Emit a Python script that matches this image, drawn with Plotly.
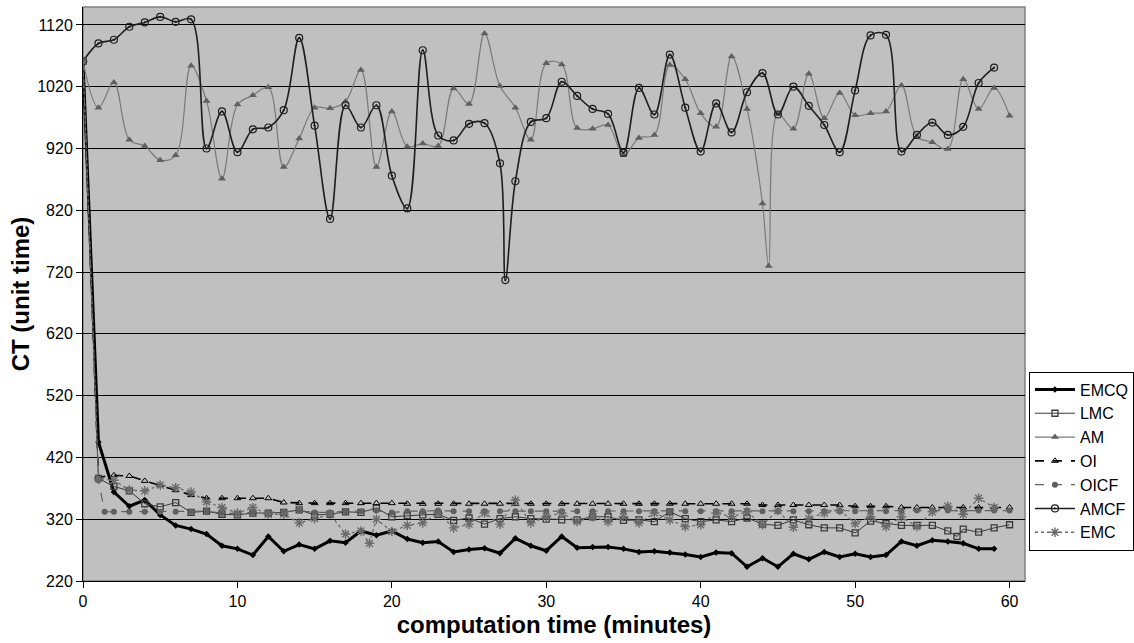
import plotly.graph_objects as go

# ---------------- data ----------------
emcq_x = list(range(0, 60))
emcq_y = [1061, 445, 364, 341, 351, 327, 310, 304, 296, 277, 272, 262, 292, 268, 279, 272, 285, 282, 301, 294,
          301, 288, 282, 284, 267, 271, 273, 265, 289, 277, 269, 292, 274, 275, 275, 272, 267, 268, 266, 263,
          259, 266, 265, 243, 257, 243, 264, 255, 267, 259, 264, 259, 262, 284, 277, 286, 284, 281, 272, 272]

lmc_x = [0, 1, 2, 3, 4, 5, 6, 7, 8, 9, 10, 11, 12, 13, 14, 15, 16, 17, 18, 19, 20, 21, 22, 23, 24, 25, 26, 27, 28, 29,
         30, 31, 32, 33, 34, 35, 36, 37, 38, 39, 40, 41, 42, 43, 44, 45, 46, 47, 48, 49, 50, 51, 52, 53, 54, 55, 56,
         56.6, 57, 58, 59, 60]
lmc_y = [1061, 386, 373, 366, 345, 340, 347, 331, 333, 328, 327, 330, 330, 331, 335, 327, 328, 332, 331, 338,
         324, 326, 327, 328, 318, 322, 312, 321, 324, 321, 320, 319, 319, 324, 324, 318, 319, 316, 332, 321,
         316, 319, 316, 322, 312, 310, 319, 311, 306, 306, 298, 317, 313, 310, 310, 310, 301, 292, 304, 299, 306, 311]

am_x = [0, 1, 2, 3, 4, 5, 6, 7, 8, 9, 10, 11, 12, 13, 14, 15, 16, 17, 18, 19, 20, 21, 22, 23, 24, 25, 26, 27, 28, 29,
        30, 31, 32, 33, 34, 35, 36, 37, 38, 39, 40, 41, 42, 43, 44, 44.4, 45, 46, 47, 48, 49, 50, 51, 52, 53, 54, 55,
        56, 57, 58, 59, 60]
am_y = [1061, 986, 1027, 934, 924, 901, 909, 1054, 997, 871, 991, 1006, 1019, 890, 936, 986, 985, 996, 1047, 890,
        980, 923, 928, 924, 1017, 992, 1106, 1021, 986, 934, 1058, 1056, 953, 952, 958, 909, 937, 942, 1055, 1032,
        977, 955, 1069, 984, 831, 730, 976, 952, 1041, 969, 1010, 974, 977, 980, 1022, 939, 930, 919, 1032, 984,
        1018, 973]

oi_x = list(range(0, 61))
oi_y = [1061, 388, 391, 390, 382, 375, 367, 359, 354, 354, 354, 354, 354, 347, 346, 346, 346, 346, 346, 346,
        346, 345, 345, 345, 345, 345, 345, 345, 345, 345, 345, 345, 345, 345, 345, 345, 345, 345, 345, 345,
        345, 345, 345, 345, 343, 343, 343, 343, 343, 343, 341, 341, 341, 339, 339, 339, 339, 339, 339, 339, 339]

oicf_x = [0, 1, 1.4, 2, 3, 4, 5, 6, 7, 8, 9, 10, 11, 12, 13, 14, 15, 16, 17, 18, 19, 20, 21, 22, 23, 24, 25, 26, 27,
          28, 29, 30, 31, 32, 33, 34, 35, 36, 37, 38, 39, 40, 41, 42, 43, 44, 45, 46, 47, 48, 49, 50, 51, 52, 53,
          54, 55, 56, 57, 58, 59, 60]
oicf_y = [1061, 383, 332, 332, 332, 332, 332, 332, 332, 333, 330, 329, 331, 331, 332, 334, 331, 331, 333, 333,
          334, 331, 333, 333, 334, 333, 333, 333, 333, 333, 333, 333, 333, 333, 333, 333, 333, 333, 333, 333,
          333, 333, 333, 333, 334, 333, 333, 333, 333, 333, 333, 333, 333, 333, 333, 334, 334, 334, 334, 334,
          334, 334]

amcf_x = [0, 1, 2, 3, 4, 5, 6, 7, 8, 9, 10, 11, 12, 13, 14, 15, 16, 17, 18, 19, 20, 21, 22, 23, 24, 25, 26, 27,
          27.35, 28, 29, 30, 31, 32, 33, 34, 35, 36, 37, 38, 39, 40, 41, 42, 43, 44, 45, 46, 47, 48, 49, 50, 51, 52,
          53, 54, 55, 56, 57, 58, 59]
amcf_y = [1061, 1090, 1096, 1117, 1124, 1133, 1125, 1129, 920, 980, 914, 951, 954, 982, 1099, 957, 806, 990, 954,
          990, 876, 823, 1079, 941, 933, 960, 961, 896, 707, 867, 963, 969, 1028, 1005, 984, 976, 913, 1018, 975,
          1072, 986, 915, 993, 946, 1011, 1042, 975, 1020, 989, 958, 914, 1014, 1103, 1104, 915, 942, 962, 942,
          955, 1026, 1051]

emc_x = [0, 1, 2, 3, 4, 5, 6, 7, 8, 9, 10, 11, 12, 13, 14, 15, 16, 17, 18, 18.55, 19, 20, 21, 22, 23, 24, 25, 26,
         27, 28, 29, 30, 31, 32, 33, 34, 35, 36, 37, 38, 39, 40, 41, 42, 43, 44, 45, 46, 47, 48, 49, 50, 51, 52, 53,
         54, 55, 56, 57, 58, 59]
emc_y = [1061, 386, 383, 367, 366, 375, 371, 364, 348, 339, 330, 339, 328, 328, 314, 321, 328, 296, 301, 281, 320,
         300, 310, 314, 330, 306, 312, 330, 312, 351, 314, 324, 330, 316, 324, 316, 324, 314, 330, 319, 308,
         311, 330, 324, 332, 311, 334, 307, 321, 330, 335, 313, 324, 308, 324, 308, 332, 341, 328, 354, 339]

y_ticks = [220, 320, 420, 520, 620, 720, 820, 920, 1020, 1120]
x_ticks = [0, 10, 20, 30, 40, 50, 60]

FONT = "Liberation Sans, Arial, sans-serif"

fig = go.Figure()

fig.add_trace(go.Scatter(x=emcq_x, y=emcq_y, name="EMCQ", mode="lines+markers",
                         line=dict(color="#000000", width=3),
                         marker=dict(symbol="diamond", size=5, color="#000000")))
fig.add_trace(go.Scatter(x=lmc_x, y=lmc_y, name="LMC", mode="lines+markers",
                         line=dict(color="#3a3a3a", width=1),
                         marker=dict(symbol="square-open", size=6, color="#3a3a3a", line=dict(width=1.3))))
fig.add_trace(go.Scatter(x=am_x, y=am_y, name="AM", mode="lines+markers",
                         line=dict(color="#7a7a7a", width=1.2, shape="spline", smoothing=1.0),
                         marker=dict(symbol="triangle-up", size=7, color="#606060")))
fig.add_trace(go.Scatter(x=oi_x, y=oi_y, name="OI", mode="lines+markers",
                         line=dict(color="#000000", width=1.6, dash="dash"),
                         marker=dict(symbol="triangle-up-open", size=6, color="#000000", line=dict(width=1))))
fig.add_trace(go.Scatter(x=oicf_x, y=oicf_y, name="OICF", mode="lines+markers",
                         line=dict(color="#606060", width=1.2, dash="dash"),
                         marker=dict(symbol="circle", size=6, color="#606060")))
fig.add_trace(go.Scatter(x=amcf_x, y=amcf_y, name="AMCF", mode="lines+markers",
                         line=dict(color="#1e1e1e", width=1.6, shape="spline", smoothing=1.0),
                         marker=dict(symbol="circle-open-dot", size=7, color="#1e1e1e", line=dict(width=1.2))))
fig.add_trace(go.Scatter(x=emc_x, y=emc_y, name="EMC", mode="lines+markers",
                         line=dict(color="#6a6a6a", width=1.3, dash="dot"),
                         marker=dict(symbol="asterisk-open", size=8, color="#6a6a6a", line=dict(width=1.4, color="#6a6a6a"))))

fig.update_layout(
    width=1134, height=643,
    margin=dict(l=83, r=109, t=7, b=62, autoexpand=False),
    paper_bgcolor="#ffffff",
    plot_bgcolor="#c0c0c0",
    font=dict(family=FONT, size=16, color="#000000"),
    showlegend=True,
    legend=dict(x=1.0042, xanchor="left", y=0.209, yanchor="middle",
                bgcolor="#ffffff", bordercolor="#000000", borderwidth=1,
                font=dict(family=FONT, size=16), itemwidth=40,
                tracegroupgap=0),
    shapes=[dict(type="rect", xref="paper", yref="paper", x0=0, y0=0, x1=1, y1=1,
                 line=dict(color="#808080", width=1.5), layer="below")],
)

fig.update_xaxes(range=[0, 61], tickvals=x_ticks, ticktext=[str(v) for v in x_ticks],
                 automargin=False,
                 showgrid=False, zeroline=False, showline=True, linecolor="#000000", linewidth=1,
                 ticks="outside", ticklen=6, tickcolor="#000000",
                 tickfont=dict(family=FONT, size=16),
                 title=dict(text="<b>computation time (minutes)</b>",
                            font=dict(family=FONT, size=24), standoff=6))
fig.update_yaxes(range=[220, 1149], tickvals=y_ticks, ticktext=[str(v) for v in y_ticks],
                 automargin=False,
                 showgrid=True, gridcolor="#000000", gridwidth=1, zeroline=False,
                 showline=True, linecolor="#000000", linewidth=1,
                 ticks="outside", ticklen=6, tickcolor="#000000",
                 tickfont=dict(family=FONT, size=16),
                 title=dict(text="<b>CT (unit time)</b>",
                            font=dict(family=FONT, size=24), standoff=0))

fig.write_html("out.html",
               config={"displayModeBar": False},
               post_script="document.body.style.margin='0';document.body.style.overflow='hidden';")
